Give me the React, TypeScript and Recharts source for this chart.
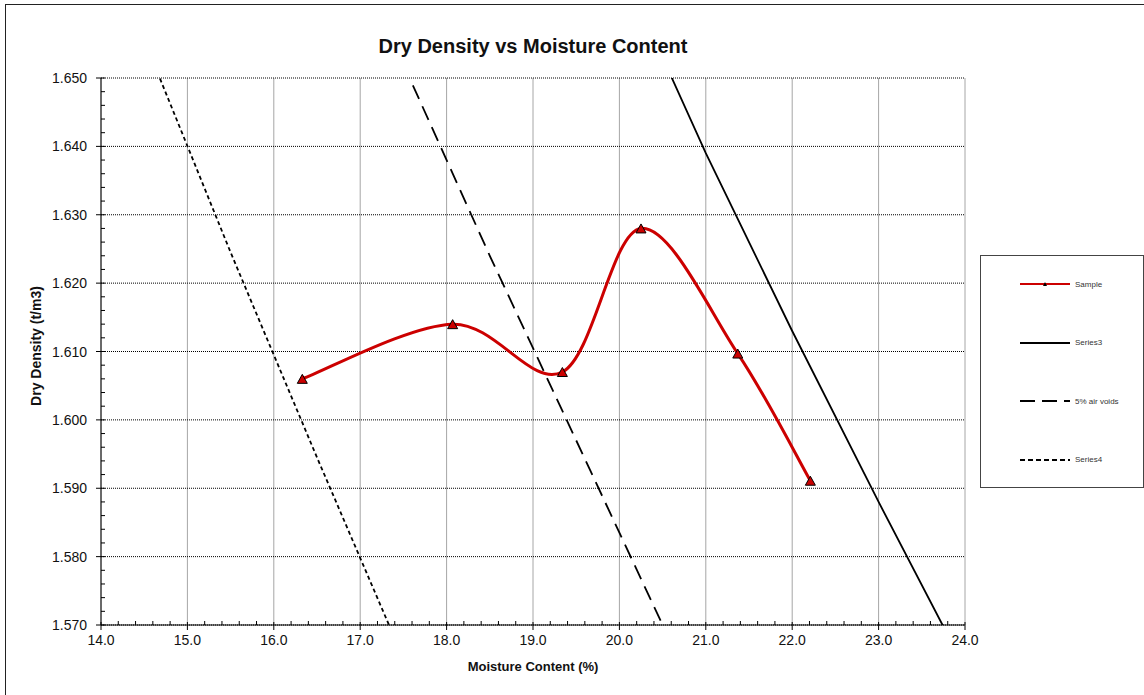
import { CartesianGrid, ComposedChart, Line, XAxis, YAxis } from "recharts";

// compaction test results
const moisture = [16.33, 18.07, 19.34, 20.25, 21.37, 22.21];
const density = [1.606, 1.614, 1.607, 1.628, 1.6097, 1.5911];

// air void lines (they run past the axes and are clipped)
const series3X = [20.5, 21.0, 22.0, 23.0, 23.74, 24.0];
const series3Y = [1.653, 1.639, 1.613, 1.588, 1.57, 1.564];
const voids5X = [17.5, 18.5, 19.5, 20.5, 21.0];
const voids5Y = [1.652, 1.624, 1.597, 1.57, 1.557];
const series4X = [14.5, 15.5, 16.5, 17.5];
const series4Y = [1.6556, 1.6245, 1.5945, 1.5651];

const xMajor = [14, 15, 16, 17, 18, 19, 20, 21, 22, 23, 24];
const yMajor = [1.57, 1.58, 1.59, 1.6, 1.61, 1.62, 1.63, 1.64, 1.65];

const sampleData = moisture.map((x, i) => ({ x, y: density[i] }));
const series3Data = series3X.map((x, i) => ({ x, y: series3Y[i] }));
const voids5Data = voids5X.map((x, i) => ({ x, y: voids5Y[i] }));
const series4Data = series4X.map((x, i) => ({ x, y: series4Y[i] }));

// 5 subdivisions between major ticks
const subdivide = (major: number[]) => {
  const out: number[] = [];
  major.forEach((v, i) => {
    out.push(v);
    if (i < major.length - 1) {
      const step = (major[i + 1] - v) / 5;
      for (let k = 1; k < 5; k++) out.push(+(v + k * step).toFixed(6));
    }
  });
  return out;
};
const xTicks = subdivide(xMajor);
const yTicks = subdivide(yMajor);

const FONT = "'Liberation Sans', Arial, sans-serif";
const RED = "#cc0000";

const isMajor = (v: number, major: number[]) => major.some((m) => Math.abs(m - v) < 1e-6);

// Excel style smoothed line (bezier through the points)
function excelSmooth(context: any) {
  let pts: [number, number][] = [];
  return {
    areaStart() {},
    areaEnd() {},
    lineStart() {
      pts = [];
    },
    point(x: number, y: number) {
      pts.push([+x, +y]);
    },
    lineEnd() {
      if (!pts.length) return;
      context.moveTo(pts[0][0], pts[0][1]);
      for (let i = 0; i < pts.length - 1; i++) {
        const p0 = pts[Math.max(i - 1, 0)];
        const p1 = pts[i];
        const p2 = pts[i + 1];
        const p3 = pts[Math.min(i + 2, pts.length - 1)];
        context.bezierCurveTo(
          p1[0] + (p2[0] - p0[0]) / 6,
          p1[1] + (p2[1] - p0[1]) / 6,
          p2[0] - (p3[0] - p1[0]) / 6,
          p2[1] - (p3[1] - p1[1]) / 6,
          p2[0],
          p2[1]
        );
      }
    },
  };
}

const XTick = (props: any) => {
  const { x, y, payload } = props;
  const v = payload.value as number;
  if (!isMajor(v, xMajor)) {
    return <line x1={x} x2={x} y1={y} y2={y - 4} stroke="#000" />;
  }
  return (
    <g>
      <line x1={x} x2={x} y1={y - 3} y2={y + 5} stroke="#000" />
      <text x={x} y={y + 20} textAnchor="middle" fontSize={14} fill="#111" fontFamily={FONT}>
        {v.toFixed(1)}
      </text>
    </g>
  );
};

const YTick = (props: any) => {
  const { x, y, payload } = props;
  const v = payload.value as number;
  if (!isMajor(v, yMajor)) {
    return <line x1={x} x2={x + 4} y1={y} y2={y} stroke="#000" />;
  }
  return (
    <g>
      <line x1={x - 5} x2={x + 4} y1={y} y2={y} stroke="#000" />
      <text x={x - 14} y={y + 5} textAnchor="end" fontSize={14} fill="#111" fontFamily={FONT}>
        {v.toFixed(3)}
      </text>
    </g>
  );
};

const Triangle = (props: any) => {
  const { cx, cy, index } = props;
  if (cx == null || cy == null) return <g key={index} />;
  return (
    <polygon
      key={index}
      points={`${cx - 5},${cy + 4.5} ${cx + 5},${cy + 4.5} ${cx},${cy - 4.5}`}
      fill={RED}
      stroke="#000"
      strokeWidth={1}
    />
  );
};

const legendItems = [
  { name: "Sample", color: RED, dash: undefined, marker: true },
  { name: "Series3", color: "#000", dash: undefined, marker: false },
  { name: "5% air voids", color: "#000", dash: "15 7", marker: false },
  { name: "Series4", color: "#000", dash: "5 3", marker: false },
];

export default function App() {
  return (
    <div
      style={{
        position: "absolute",
        left: 0,
        top: 0,
        width: 1144,
        height: 695,
        background: "#fff",
        overflow: "hidden",
        fontFamily: FONT,
      }}
    >
      <div
        style={{
          position: "absolute",
          left: 5,
          top: 4,
          width: 1160,
          height: 720,
          border: "1px solid #222",
        }}
      />
      <div
        style={{
          position: "absolute",
          left: 101,
          width: 864,
          top: 35,
          textAlign: "center",
          fontSize: 20,
          fontWeight: "bold",
          color: "#111",
        }}
      >
        Dry Density vs Moisture Content
      </div>
      <div
        style={{
          position: "absolute",
          left: 101,
          width: 864,
          top: 659,
          textAlign: "center",
          fontSize: 13,
          fontWeight: "bold",
          color: "#111",
        }}
      >
        Moisture Content (%)
      </div>
      <div
        style={{
          position: "absolute",
          left: 36,
          top: 346,
          transform: "translate(-50%, -50%) rotate(-90deg)",
          whiteSpace: "nowrap",
          fontSize: 14,
          fontWeight: "bold",
          color: "#111",
        }}
      >
        Dry Density (t/m3)
      </div>

      <div style={{ position: "absolute", left: 0, top: 0 }}>
        <ComposedChart
          width={1144}
          height={695}
          margin={{ top: 78, right: 179, bottom: 30, left: 41 }}
        >
          <CartesianGrid
            horizontal={false}
            verticalValues={xMajor}
            stroke="#a6a6a6"
            strokeWidth={1}
          />
          <CartesianGrid
            vertical={false}
            horizontalValues={yMajor}
            stroke="#000"
            strokeDasharray="1 1"
            strokeWidth={1}
          />
          <XAxis
            type="number"
            dataKey="x"
            domain={[14, 24]}
            allowDataOverflow
            ticks={xTicks}
            interval={0}
            tickSize={0}
            tickMargin={0}
            tick={<XTick />}
            axisLine={{ stroke: "#000" }}
            tickLine={false}
            height={40}
          />
          <YAxis
            type="number"
            dataKey="y"
            domain={[1.57, 1.65]}
            allowDataOverflow
            ticks={yTicks}
            interval={0}
            tickSize={0}
            tickMargin={0}
            tick={<YTick />}
            axisLine={{ stroke: "#000" }}
            tickLine={false}
            width={60}
          />
          <Line
            data={series4Data}
            dataKey="y"
            type="linear"
            stroke="#000"
            strokeWidth={1.8}
            strokeDasharray="4 3"
            dot={false}
            activeDot={false}
            isAnimationActive={false}
          />
          <Line
            data={voids5Data}
            dataKey="y"
            type="linear"
            stroke="#000"
            strokeWidth={1.8}
            strokeDasharray="15 8"
            dot={false}
            activeDot={false}
            isAnimationActive={false}
          />
          <Line
            data={series3Data}
            dataKey="y"
            type="linear"
            stroke="#000"
            strokeWidth={1.8}
            dot={false}
            activeDot={false}
            isAnimationActive={false}
          />
          <Line
            data={sampleData}
            dataKey="y"
            type={excelSmooth as any}
            stroke={RED}
            strokeWidth={3}
            dot={<Triangle />}
            activeDot={false}
            isAnimationActive={false}
          />
        </ComposedChart>
      </div>

      <div
        style={{
          position: "absolute",
          left: 980,
          top: 255,
          width: 162,
          height: 231,
          border: "1px solid #444",
          background: "#fff",
        }}
      >
        {legendItems.map((it, i) => (
          <div
            key={it.name}
            style={{
              position: "absolute",
              left: 39,
              top: 20 + i * 58.5,
              height: 16,
              display: "flex",
              alignItems: "center",
              fontSize: 8,
              color: "#333",
            }}
          >
            <svg width={50} height={16}>
              <line
                x1={0}
                x2={50}
                y1={8}
                y2={8}
                stroke={it.color}
                strokeWidth={2}
                strokeDasharray={it.dash}
              />
              {it.marker && <polygon points="23,10 27,10 25,6" fill="#000" />}
            </svg>
            <span style={{ marginLeft: 5 }}>{it.name}</span>
          </div>
        ))}
      </div>
    </div>
  );
}
